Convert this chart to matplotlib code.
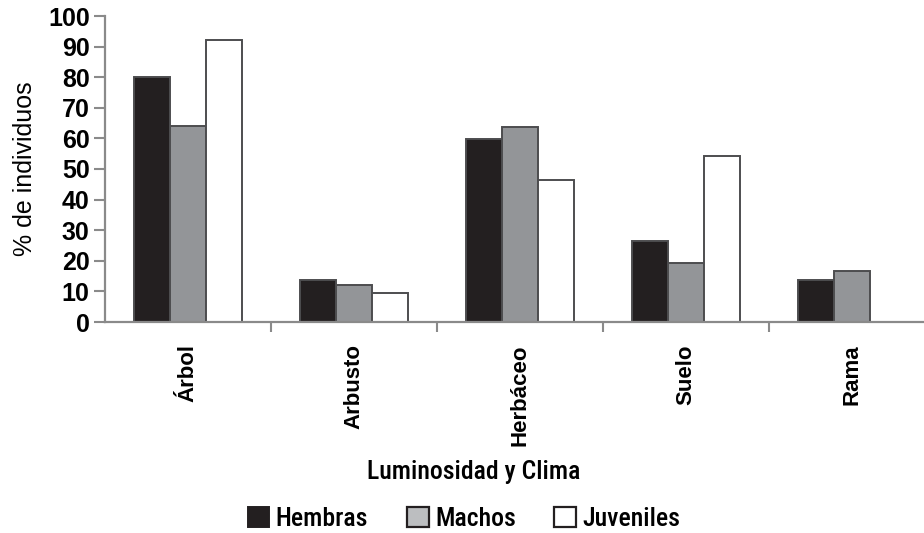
import matplotlib
matplotlib.use("Agg")
import matplotlib.pyplot as plt
from matplotlib import font_manager as fm
from matplotlib.patches import Patch
import numpy as np

categorias = ["Árbol", "Arbusto", "Herbáceo", "Suelo", "Rama"]
hembras = [80.0, 13.6, 59.8, 26.5, 13.6]
machos = [64.0, 12.2, 63.8, 19.4, 16.7]
juveniles = [92.0, 9.6, 46.3, 54.2, 0.0]
series = ["Hembras", "Machos", "Juveniles"]
yticks = list(range(0, 101, 10))

colores = ["#231f20", "#939598", "#ffffff"]
borde = "#4d4d4f"
eje = "#8a8a8a"

plt.rcParams["font.family"] = ["Liberation Sans", "DejaVu Sans"]


def fuente_estrecha():
    # a narrow face for the axis title and legend, if one is installed
    nombres = {f.name for f in fm.fontManager.ttflist}
    for n in ["Liberation Sans Narrow", "Arial Narrow", "Roboto Condensed",
              "Open Sans Condensed", "Noto Sans Condensed"]:
        if n in nombres:
            return {"family": n}, 1.0
    for f in fm.fontManager.ttflist:
        if str(f.stretch) in ("condensed", "semi-condensed") and f.style == "normal":
            return {"family": f.name, "stretch": f.stretch}, 1.0
    return {"family": "Liberation Sans"}, 0.91


estrecha, escala = fuente_estrecha()

fig = plt.figure(figsize=(9.24, 5.33), dpi=100)
ax = fig.add_axes([105 / 924, 1 - 322 / 533, 830 / 924, 306 / 533])

x = np.arange(len(categorias))
w = 0.215
for k, (vals, col) in enumerate(zip([hembras, machos, juveniles], colores)):
    vals = np.array(vals)
    m = vals > 0
    ax.bar(x[m] + (k - 1) * w, vals[m], width=w, color=col,
           edgecolor=borde, linewidth=1.4, zorder=2)

ax.set_xlim(-0.5, len(categorias) - 0.5)
ax.set_ylim(0, 100)

for s in ["top", "right"]:
    ax.spines[s].set_visible(False)
for s in ["left", "bottom"]:
    ax.spines[s].set_color(eje)
    ax.spines[s].set_linewidth(1.6)
ax.spines["bottom"].set_zorder(3)

ax.set_yticks(yticks)
ax.set_yticklabels([str(t) for t in yticks], fontsize=18, fontweight="bold")
ax.tick_params(axis="y", direction="out", length=8, width=1.5, color=eje, pad=3)

# ticks between groups, labels at the group centres
ax.set_xticks(np.arange(0.5, len(categorias) - 1, 1.0))
ax.set_xticklabels([])
ax.tick_params(axis="x", which="major", direction="out", length=7, width=1.5, color=eje)
ax.set_xticks(x, minor=True)
ax.set_xticklabels(categorias, minor=True, rotation=90, fontsize=16,
                   fontweight="bold", va="top", ha="center")
ax.tick_params(axis="x", which="minor", length=0, pad=16)

ax.set_ylabel("% de individuos", fontsize=18, labelpad=8)

fig.text(474 / 924, 1 - 472 / 533, "Luminosidad y Clima", fontweight="medium",
         fontsize=18.5 * escala, ha="center", va="center", **estrecha)

handles = [Patch(facecolor="#231f20", edgecolor="#231f20", linewidth=1.4),
           Patch(facecolor="#bcbec0", edgecolor="#231f20", linewidth=1.6),
           Patch(facecolor="#ffffff", edgecolor="#231f20", linewidth=1.6)]
prop = dict(estrecha)
prop["size"] = 18.5 * escala
prop["weight"] = "medium"
fig.legend(handles, series, loc="center", bbox_to_anchor=(464 / 924, 1 - 519 / 533),
           ncol=3, frameon=False, handlelength=0.85, handleheight=0.85,
           handletextpad=0.25, columnspacing=1.5, prop=prop)

fig.savefig("out.png", dpi=100)
